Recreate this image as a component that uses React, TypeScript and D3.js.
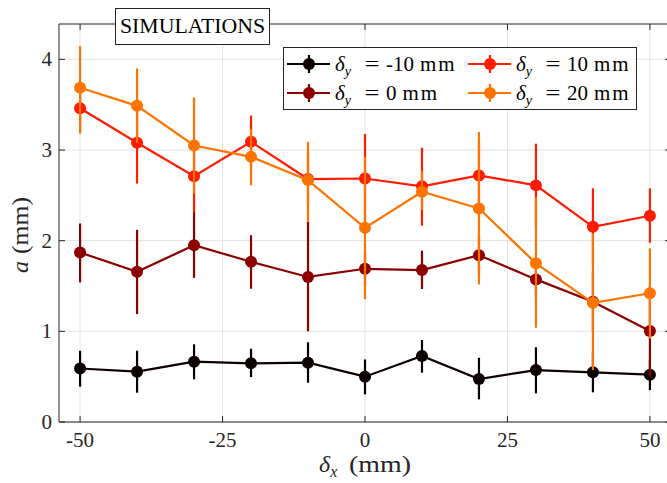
import React from "react";
import * as d3 from "d3";

const xValues = [-50, -40, -30, -20, -10, 0, 10, 20, 30, 40, 50];

const seriesNames = ["-10", "0", "10", "20"];
const seriesColors = ["#0b0000", "#8c0000", "#ff1c00", "#ff7400"];

const valsM10 = [0.59, 0.555, 0.665, 0.647, 0.654, 0.5, 0.728, 0.474, 0.573, 0.548, 0.522];
const loM10 = [0.39, 0.323, 0.47, 0.496, 0.433, 0.305, 0.544, 0.25, 0.316, 0.327, 0.353];
const hiM10 = [0.786, 0.786, 0.857, 0.808, 0.879, 0.69, 0.904, 0.709, 0.824, 0.77, 0.69];

const vals0 = [1.87, 1.657, 1.95, 1.767, 1.6, 1.69, 1.676, 1.84, 1.573, 1.327, 1.003];
const lo0 = [1.54, 1.19, 1.59, 1.47, 1.0, 1.5, 1.467, 1.63, 1.38, 1.0, 0.5];
const hi0 = [2.19, 2.12, 2.32, 2.06, 2.21, 1.87, 1.89, 2.05, 1.77, 1.65, 1.5];

const vals10 = [3.46, 3.08, 2.71, 3.09, 2.68, 2.686, 2.6, 2.72, 2.61, 2.153, 2.275];
const lo10 = [3.2, 2.63, 2.31, 2.8, 2.4, 2.2, 2.165, 2.33, 2.15, 1.73, 1.977];
const hi10 = [3.72, 3.53, 3.11, 3.38, 2.97, 3.175, 3.025, 3.1, 3.07, 2.577, 2.577];

const vals20 = [3.686, 3.487, 3.05, 2.925, 2.668, 2.142, 2.54, 2.356, 1.75, 1.315, 1.42];
const lo20 = [3.18, 3.08, 2.52, 2.61, 2.21, 1.356, 2.337, 1.518, 1.04, 0.573, 0.92];
const hi20 = [4.145, 3.9, 3.58, 3.23, 3.09, 2.925, 2.767, 3.2, 2.48, 2.08, 1.915];

const xTicks = [-50, -25, 0, 25, 50];
const yTicks = [0, 1, 2, 3, 4];

const FONT = "'Liberation Serif', 'Times New Roman', Times, 'DejaVu Serif', serif";
const AX = "#262626";
const TXT: React.CSSProperties = { fontFamily: FONT };

export default function App() {
  const W = 667, H = 483;
  const x = d3.scaleLinear().domain([-53.7, 53.7]).range([59, 671]);
  const y = d3.scaleLinear().domain([0, 4.39]).range([422, 24]);
  const [x0, x1] = x.range();
  const [yb, yt] = y.range();

  const series = [
    { name: seriesNames[0], color: seriesColors[0], v: valsM10, lo: loM10, hi: hiM10 },
    { name: seriesNames[1], color: seriesColors[1], v: vals0, lo: lo0, hi: hi0 },
    { name: seriesNames[2], color: seriesColors[2], v: vals10, lo: lo10, hi: hi10 },
    { name: seriesNames[3], color: seriesColors[3], v: vals20, lo: lo20, hi: hi20 },
  ];

  const line = d3.line<number>().x((_, i) => x(xValues[i])).y((d) => y(d));

  const legendPos = [
    { lx: 287, ly: 64 },
    { lx: 287, ly: 93 },
    { lx: 468, ly: 64 },
    { lx: 468, ly: 93 },
  ];

  return (
    <svg width={W} height={H} style={{ position: "absolute", left: 0, top: 0, background: "#fff" }}>
      <rect x={0} y={0} width={W} height={H} fill="#fff" />
      {/* grid */}
      {xTicks.map((t) => (
        <line key={"gx" + t} x1={x(t)} x2={x(t)} y1={yt} y2={yb} stroke="#e3e3e3" strokeWidth={1} />
      ))}
      {yTicks.map((t) => (
        <line key={"gy" + t} x1={x0} x2={x1} y1={y(t)} y2={y(t)} stroke="#e3e3e3" strokeWidth={1} />
      ))}
      {/* series */}
      {series.map((s) => (
        <g key={s.name}>
          <path d={line(s.v) || ""} fill="none" stroke={s.color} strokeWidth={2.2} />
          {s.v.map((v, i) => (
            <line key={i} x1={x(xValues[i])} x2={x(xValues[i])} y1={y(s.lo[i])} y2={y(s.hi[i])} stroke={s.color} strokeWidth={2.2} />
          ))}
          {s.v.map((v, i) => (
            <circle key={"c" + i} cx={x(xValues[i])} cy={y(v)} r={6} fill={s.color} />
          ))}
        </g>
      ))}
      {/* axes box */}
      <line x1={x0} x2={x1} y1={yb} y2={yb} stroke={AX} strokeWidth={1} />
      <line x1={x0} x2={x1} y1={yt} y2={yt} stroke={AX} strokeWidth={1} />
      <line x1={x0} x2={x0} y1={yt} y2={yb} stroke={AX} strokeWidth={1} />
      <line x1={x1} x2={x1} y1={yt} y2={yb} stroke={AX} strokeWidth={1} />
      {xTicks.map((t) => (
        <g key={"tx" + t}>
          <line x1={x(t)} x2={x(t)} y1={yb} y2={yb - 6} stroke={AX} />
          <line x1={x(t)} x2={x(t)} y1={yt} y2={yt + 6} stroke={AX} />
          <text x={x(t)} y={447} textAnchor="middle" style={TXT} fontSize={21} fill={AX}>{t}</text>
        </g>
      ))}
      {yTicks.map((t) => (
        <g key={"ty" + t}>
          <line x1={x0} x2={x0 + 6} y1={y(t)} y2={y(t)} stroke={AX} />
          <line x1={x1} x2={x1 - 6} y1={y(t)} y2={y(t)} stroke={AX} />
          <text x={52} y={y(t) + 7} textAnchor="end" style={TXT} fontSize={21} fill={AX}>{t}</text>
        </g>
      ))}
      {/* axis labels */}
      <text x={319} y={472} style={TXT} fontSize={24} fill={AX}>
        <tspan fontStyle="italic">δ</tspan>
        <tspan fontStyle="italic" fontSize={16} dy={5}>x</tspan>
      </text>
      <text x={349} y={472} style={TXT} fontSize={24} fill={AX} textLength={62} lengthAdjust="spacingAndGlyphs">(mm)</text>
      <g transform={`translate(28,228) rotate(-90)`}>
        <text x={-45} y={0} style={TXT} fontSize={24} fill={AX} fontStyle="italic">a</text>
        <text x={-26} y={0} style={TXT} fontSize={24} fill={AX} textLength={57} lengthAdjust="spacingAndGlyphs">(mm)</text>
      </g>
      {/* title box */}
      <rect x={115.5} y={8.5} width={154} height={36} fill="#fff" stroke={AX} strokeWidth={1} />
      <text x={120} y={33} style={TXT} fontSize={20} fill="#000" textLength={145} lengthAdjust="spacingAndGlyphs">SIMULATIONS</text>
      {/* legend */}
      <rect x={283.5} y={47.5} width={353} height={62} fill="#fff" stroke={AX} strokeWidth={1} />
      {series.map((s, i) => {
        const p = legendPos[i];
        const tx = p.lx + 48;
        return (
          <g key={"lg" + s.name}>
            <line x1={p.lx} x2={p.lx + 43} y1={p.ly} y2={p.ly} stroke={s.color} strokeWidth={2.2} />
            <line x1={p.lx + 22} x2={p.lx + 22} y1={p.ly - 9} y2={p.ly + 9} stroke={s.color} strokeWidth={2.2} />
            <circle cx={p.lx + 22} cy={p.ly} r={6} fill={s.color} />
            <text x={tx} y={p.ly + 7} style={TXT} fontSize={21} fill="#000">
              <tspan fontStyle="italic">δ</tspan>
              <tspan fontStyle="italic" fontSize={14} dy={5}>y</tspan>
            </text>
            <text x={tx + 37} y={p.ly + 7} textAnchor="middle" style={TXT} fontSize={21} fill="#000" textLength={15} lengthAdjust="spacingAndGlyphs">=</text>
            <text x={tx + 51} y={p.ly + 7} style={TXT} fontSize={21} fill="#000">
              {s.name}
              <tspan dx={6} letterSpacing={2}>mm</tspan>
            </text>
          </g>
        );
      })}
    </svg>
  );
}
